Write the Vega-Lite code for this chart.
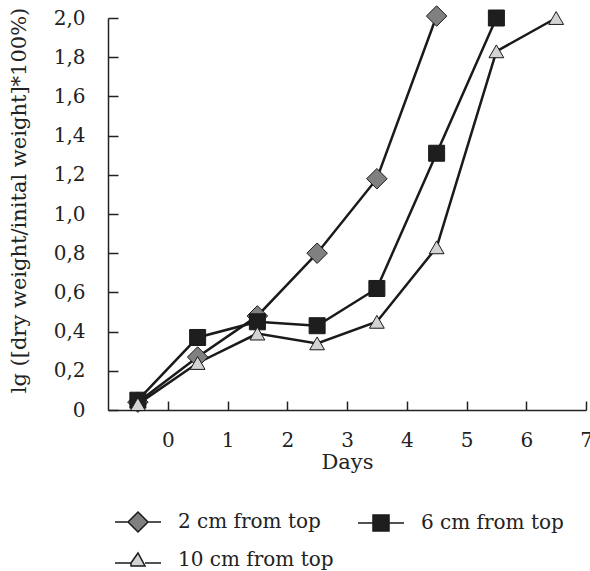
{
  "$schema": "https://vega.github.io/schema/vega-lite/v6.json",
  "width": 478,
  "height": 392,
  "autosize": "none",
  "padding": {"left": 108, "top": 18, "right": 4, "bottom": 161},
  "background": "white",
  "config": {
    "view": {"stroke": null},
    "font": "DejaVu Serif",
    "axis": {
      "domainColor": "#222",
      "domainWidth": 1.5,
      "tickColor": "#222",
      "tickWidth": 1.5,
      "grid": false,
      "labelFont": "DejaVu Serif",
      "labelFontSize": 20,
      "labelColor": "#222",
      "titleFont": "DejaVu Serif",
      "titleFontSize": 21,
      "titleFontWeight": "normal",
      "titleColor": "#222"
    }
  },
  "data": {
    "values": [
      {"day": -0.5, "value": 0.04, "series": "2 cm from top"},
      {"day": 0.5, "value": 0.27, "series": "2 cm from top"},
      {"day": 1.5, "value": 0.48, "series": "2 cm from top"},
      {"day": 2.5, "value": 0.80, "series": "2 cm from top"},
      {"day": 3.5, "value": 1.18, "series": "2 cm from top"},
      {"day": 4.5, "value": 2.01, "series": "2 cm from top"},
      {"day": -0.5, "value": 0.05, "series": "6 cm from top"},
      {"day": 0.5, "value": 0.37, "series": "6 cm from top"},
      {"day": 1.5, "value": 0.45, "series": "6 cm from top"},
      {"day": 2.5, "value": 0.43, "series": "6 cm from top"},
      {"day": 3.5, "value": 0.62, "series": "6 cm from top"},
      {"day": 4.5, "value": 1.31, "series": "6 cm from top"},
      {"day": 5.5, "value": 2.0, "series": "6 cm from top"},
      {"day": -0.5, "value": 0.03, "series": "10 cm from top"},
      {"day": 0.5, "value": 0.24, "series": "10 cm from top"},
      {"day": 1.5, "value": 0.39, "series": "10 cm from top"},
      {"day": 2.5, "value": 0.34, "series": "10 cm from top"},
      {"day": 3.5, "value": 0.45, "series": "10 cm from top"},
      {"day": 4.5, "value": 0.83, "series": "10 cm from top"},
      {"day": 5.5, "value": 1.83, "series": "10 cm from top"},
      {"day": 6.5, "value": 2.0, "series": "10 cm from top"}
    ]
  },
  "encoding": {
    "x": {
      "field": "day",
      "type": "quantitative",
      "scale": {"domain": [-1, 7], "nice": false, "zero": false},
      "axis": {
        "title": "Days",
        "values": [0, 1, 2, 3, 4, 5, 6, 7],
        "tickSize": -9,
        "labelPadding": 29,
        "titlePadding": 1,
        "labelFlush": false
      }
    },
    "y": {
      "field": "value",
      "type": "quantitative",
      "scale": {"domain": [0, 2.0], "nice": false},
      "axis": {
        "title": "lg ([dry weight/inital weight]*100%)",
        "values": [0, 0.2, 0.4, 0.6, 0.8, 1.0, 1.2, 1.4, 1.6, 1.8, 2.0],
        "labelExpr": "datum.value == 0 ? '0' : replace(format(datum.value, '.1f'), '.', ',')",
        "tickSize": -10,
        "labelPadding": 33,
        "titlePadding": 24,
        "titleY": 182,
        "labelFlush": false
      }
    }
  },
  "layer": [
    {
      "mark": {"type": "line", "color": "#1a1a1a", "strokeWidth": 2.5},
      "encoding": {"detail": {"field": "series"}, "order": {"field": "day"}}
    },
    {
      "transform": [{"filter": "datum.series == '2 cm from top'"}],
      "mark": {"type": "point", "shape": "diamond", "filled": true, "opacity": 1, "fill": "#808080", "stroke": "#1a1a1a", "strokeWidth": 1, "size": 420}
    },
    {
      "transform": [{"filter": "datum.series == '6 cm from top'"}],
      "mark": {"type": "point", "shape": "square", "filled": true, "opacity": 1, "fill": "#1e1e1e", "stroke": "#1a1a1a", "strokeWidth": 1, "size": 256}
    },
    {
      "transform": [{"filter": "datum.series == '10 cm from top'"}],
      "mark": {"type": "point", "shape": "triangle-up", "filled": true, "opacity": 1, "fill": "#d3d3d3", "stroke": "#1a1a1a", "strokeWidth": 1, "size": 220}
    },
    {
      "transform": [{"filter": "datum.day > 100"}],
      "mark": {"type": "point", "filled": true, "opacity": 1, "strokeWidth": 1.5, "size": 400},
      "encoding": {
        "shape": {
          "field": "series",
          "type": "nominal",
          "scale": {
            "domain": ["2 cm from top", "6 cm from top", "10 cm from top"],
            "range": [
              "M-2.3,0L-1,0L0,-1L1,0L0,1L-1,0Z M1,0L2.3,0",
              "M-2.3,0L-0.8,0L-0.8,-0.8L0.8,-0.8L0.8,0.8L-0.8,0.8L-0.8,0Z M0.8,0L2.3,0",
              "M-2.3,0.3L-0.7,0.3L0,-0.7L0.7,0.6L-0.7,0.6L-0.7,0.3Z M0.7,0.3L2.3,0.3"
            ]
          },
          "legend": {
            "title": null,
            "orient": "none",
            "legendX": 19,
            "legendY": 493,
            "direction": "horizontal",
            "columns": 2,
            "padding": 0,
            "symbolSize": 400,
            "symbolStrokeWidth": 1.5,
            "symbolOpacity": 1,
            "labelFont": "DejaVu Serif",
            "labelFontSize": 20,
            "labelColor": "#222",
            "labelOffset": 29,
            "rowPadding": 14,
            "columnPadding": 21,
            "labelLimit": 300
          }
        },
        "fill": {
          "field": "series",
          "type": "nominal",
          "scale": {"domain": ["2 cm from top", "6 cm from top", "10 cm from top"], "range": ["#808080", "#1e1e1e", "#d3d3d3"]}
        },
        "stroke": {
          "field": "series",
          "type": "nominal",
          "scale": {"domain": ["2 cm from top", "6 cm from top", "10 cm from top"], "range": ["#1a1a1a", "#1a1a1a", "#1a1a1a"]}
        }
      }
    }
  ]
}
